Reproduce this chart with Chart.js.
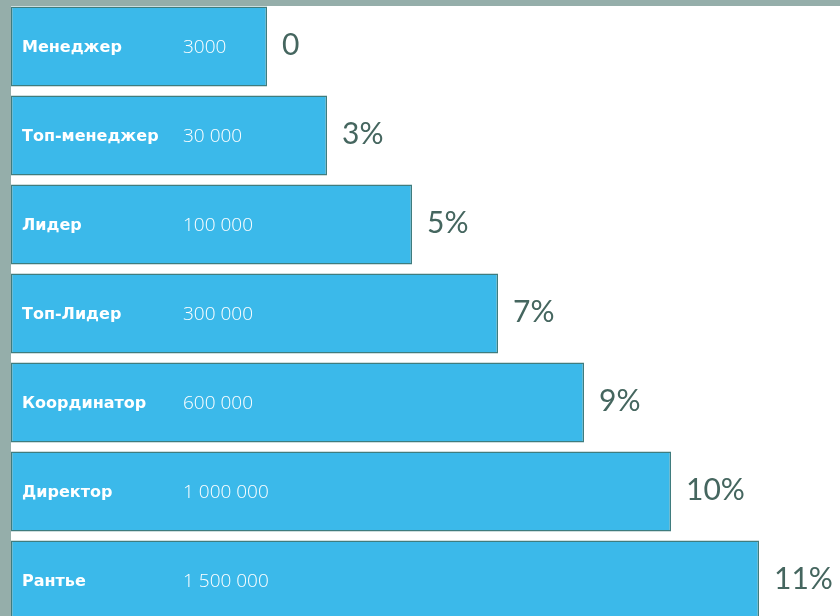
<!DOCTYPE html>
<html>
<head>
<meta charset="utf-8">
<script src="https://cdn.jsdelivr.net/npm/chart.js@4/dist/chart.umd.min.js"></script>
<style>
  html, body { margin: 0; padding: 0; width: 840px; height: 616px; overflow: hidden; background: #95aeaa; }
  #white { position: absolute; left: 11px; top: 6px; width: 829px; height: 610px; background: #ffffff; }
  #wrap { position: absolute; left: 11px; top: 1.5px; width: 829px; height: 623px; }
</style>
</head>
<body>
<div id="white"></div>
<div id="wrap"><canvas id="c"></canvas></div>
<script>
// Levels (categories)
const levels = ["Менеджер", "Топ-менеджер", "Лидер", "Топ-Лидер", "Координатор", "Директор", "Рантье"];
// Turnover thresholds shown inside bars
const amounts = ["3000", "30 000", "100 000", "300 000", "600 000", "1 000 000", "1 500 000"];
// Bonus percentages shown to the right of bars
const percents = ["0", "3%", "5%", "7%", "9%", "10%", "11%"];
// Bar lengths (visual step per level, in axis units)
const barLengths = [256, 316, 401, 487, 573, 660, 748];
const axisMax = 829;

const labelPlugin = {
  id: 'labels',
  afterDatasetsDraw(chart) {
    const ctx = chart.ctx;
    const meta = chart.getDatasetMeta(0);
    const xs = chart.scales.x;
    ctx.save();
    ctx.textBaseline = 'middle';
    meta.data.forEach((bar, i) => {
      const y = bar.y;
      const x0 = xs.getPixelForValue(0);
      ctx.fillStyle = '#ffffff';
      ctx.textAlign = 'left';
      ctx.font = 'bold 16px "DejaVu Sans"';
      ctx.fillText(levels[i], x0 + 11, y + 1);
      ctx.font = '300 19px "Open Sans"';
      ctx.fillText(amounts[i], x0 + 172, y + 1);
      ctx.fillStyle = '#45665f';
      ctx.font = '30px "Lato"';
      ctx.fillText(percents[i], bar.x + 15, y - 1);
    });
    ctx.restore();
  }
};

new Chart(document.getElementById('c'), {
  type: 'bar',
  data: {
    labels: levels,
    datasets: [{
      data: barLengths,
      backgroundColor: '#3bb9ea',
      borderColor: '#3f7c7e',
      borderWidth: 1.5,
      borderSkipped: false,
      categoryPercentage: 0.9,
      barPercentage: 1.0
    }]
  },
  options: {
    indexAxis: 'y',
    responsive: true,
    maintainAspectRatio: false,
    animation: false,
    layout: { padding: 0 },
    plugins: { legend: { display: false }, tooltip: { enabled: false } },
    scales: {
      x: { display: false, min: 0, max: axisMax },
      y: { display: false }
    }
  },
  plugins: [labelPlugin]
});
</script>
</body>
</html>
